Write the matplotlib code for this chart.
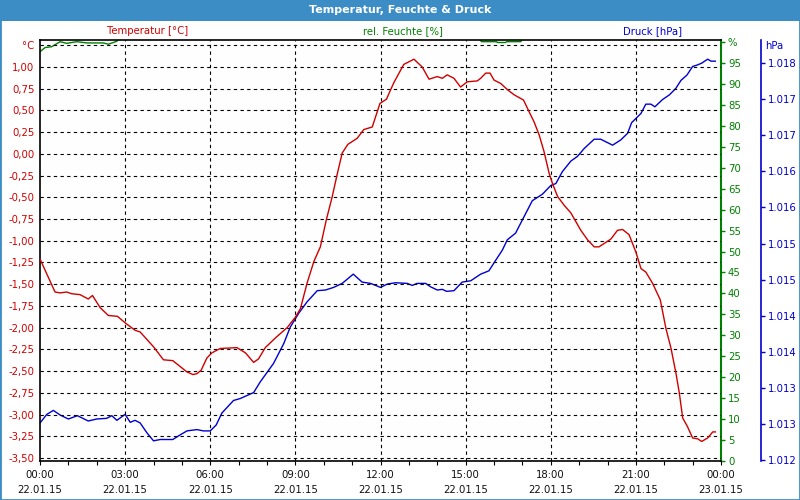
import matplotlib
matplotlib.use('Agg')
import matplotlib.pyplot as plt
from matplotlib.patches import Rectangle
from matplotlib.ticker import FixedLocator, FuncFormatter
import numpy as np

# Werte (Stunden seit 22.01.15 00:00)
temp_h = [0.00, 0.53, 0.71, 0.94, 1.12, 1.41, 1.70, 1.85, 2.12, 2.41, 2.73, 3.02, 3.35, 3.53,
          4.00, 4.35, 4.68, 5.18, 5.39, 5.53, 5.68, 5.88, 6.06, 6.35, 6.94, 7.24, 7.53, 7.70,
          7.94, 8.29, 8.71, 9.00, 9.18, 9.41, 9.65, 9.88, 10.09, 10.30, 10.47, 10.65, 10.85,
          11.18, 11.41, 11.71, 11.98, 12.21, 12.47, 12.82, 13.18, 13.47, 13.71, 14.00, 14.18,
          14.35, 14.59, 14.82, 15.06, 15.41, 15.53, 15.71, 15.86, 16.00, 16.24, 16.47, 16.71,
          17.04, 17.23, 17.41, 17.59, 17.76, 17.94, 18.06, 18.24, 18.47, 18.71, 19.06, 19.30,
          19.53, 19.70, 20.12, 20.35, 20.53, 20.76, 21.00, 21.18, 21.35, 21.59, 21.86, 22.06,
          22.24, 22.41, 22.53, 22.65, 22.82, 23.00, 23.18, 23.32, 23.53, 23.71, 23.80]
temp_c = [-1.21, -1.59, -1.60, -1.59, -1.61, -1.62, -1.67, -1.63, -1.77, -1.86, -1.87, -1.95,
          -2.03, -2.05, -2.22, -2.37, -2.38, -2.51, -2.54, -2.53, -2.49, -2.35, -2.29, -2.24,
          -2.23, -2.29, -2.40, -2.36, -2.23, -2.12, -2.00, -1.88, -1.78, -1.49, -1.24, -1.07,
          -0.76, -0.49, -0.24, 0.01, 0.11, 0.18, 0.28, 0.31, 0.58, 0.63, 0.82, 1.03, 1.09,
          1.00, 0.86, 0.89, 0.87, 0.91, 0.87, 0.77, 0.83, 0.84, 0.87, 0.93, 0.93, 0.85, 0.81,
          0.74, 0.68, 0.62, 0.49, 0.37, 0.22, 0.03, -0.22, -0.34, -0.49, -0.59, -0.68, -0.88,
          -0.99, -1.07, -1.07, -0.98, -0.88, -0.87, -0.93, -1.13, -1.32, -1.36, -1.49, -1.68,
          -2.01, -2.24, -2.52, -2.75, -3.04, -3.14, -3.27, -3.28, -3.31, -3.27, -3.20, -3.20]

druck_h = [0.00, 0.24, 0.47, 0.71, 1.00, 1.32, 1.70, 2.00, 2.35, 2.53, 2.71, 3.00, 3.18, 3.35,
           3.53, 3.77, 4.00, 4.24, 4.68, 4.94, 5.18, 5.53, 5.76, 6.00, 6.21, 6.41, 6.82, 7.06,
           7.53, 7.76, 8.23, 8.59, 8.82, 9.12, 9.41, 9.77, 10.06, 10.35, 10.65, 11.04, 11.35,
           11.65, 12.00, 12.24, 12.53, 12.94, 13.12, 13.29, 13.59, 13.76, 14.00, 14.18, 14.33,
           14.59, 14.88, 15.18, 15.53, 15.82, 16.06, 16.29, 16.47, 16.76, 17.06, 17.35, 17.71,
           18.00, 18.18, 18.41, 18.71, 18.94, 19.18, 19.53, 19.76, 20.18, 20.47, 20.71, 20.85,
           21.18, 21.35, 21.53, 21.67, 21.94, 22.18, 22.41, 22.59, 22.80, 23.00, 23.15, 23.32,
           23.53, 23.65, 23.80]
druck_hpa = [1012.56, 1012.69, 1012.75, 1012.68, 1012.62, 1012.67, 1012.59, 1012.62, 1012.63,
             1012.67, 1012.60, 1012.69, 1012.57, 1012.60, 1012.56, 1012.41, 1012.29, 1012.31,
             1012.31, 1012.38, 1012.44, 1012.46, 1012.44, 1012.44, 1012.53, 1012.71, 1012.90,
             1012.93, 1013.02, 1013.18, 1013.46, 1013.76, 1014.01, 1014.22, 1014.39, 1014.56,
             1014.57, 1014.61, 1014.67, 1014.81, 1014.69, 1014.67, 1014.61, 1014.66, 1014.68,
             1014.67, 1014.64, 1014.67, 1014.67, 1014.62, 1014.57, 1014.58, 1014.55, 1014.56,
             1014.69, 1014.71, 1014.81, 1014.86, 1015.02, 1015.17, 1015.33, 1015.43, 1015.68,
             1015.92, 1016.02, 1016.15, 1016.18, 1016.36, 1016.52, 1016.59, 1016.71, 1016.85,
             1016.85, 1016.76, 1016.84, 1016.94, 1017.10, 1017.24, 1017.38, 1017.38, 1017.34,
             1017.45, 1017.52, 1017.62, 1017.74, 1017.82, 1017.95, 1017.97, 1018.00, 1018.06,
             1018.03, 1018.03]

# Feuchte liegt meist oberhalb der Skala (abgeschnitten)
feuchte_h = [0.00, 0.18, 0.41, 0.71, 0.94, 1.30, 1.65, 2.23, 2.41, 2.71, 2.85, 4.0, 8.0, 12.0,
             15.40, 15.56, 16.09, 16.12, 16.40, 16.45, 16.94, 17.10, 20.0, 23.80]
feuchte_pct = [97.7, 98.7, 98.9, 100.1, 99.7, 100.1, 99.8, 99.8, 99.5, 100.2, 101.5, 102.0,
               102.5, 102.0, 101.5, 100.1, 100.1, 99.9, 99.9, 100.1, 100.1, 101.5, 102.0, 102.5]

x_ticks = [0, 3, 6, 9, 12, 15, 18, 21, 24]
x_zeit = ['00:00', '03:00', '06:00', '09:00', '12:00', '15:00', '18:00', '21:00', '00:00']
x_datum = ['22.01.15'] * 8 + ['23.01.15']

rot = '#d00000'
gruen = '#008000'
blau = '#0000d0'
rahmen = '#3c8dc6'
fs = 7.3

plt.rcParams['font.family'] = ['DejaVu Sans']

fig = plt.figure(figsize=(8, 5), dpi=100)
fig.patch.set_facecolor('white')

ax = fig.add_axes([40/800, 39/500, 681/800, 421/500])
ax.set_xlim(0, 24)
ax.set_ylim(-3.535, 1.311)

ax2 = ax.twinx()
ax2.set_ylim(0, 100.5)
ax3 = ax.twinx()
ax3.set_ylim(1011.985, 1018.35)
ax3.spines['right'].set_position(('axes', (761 - 40) / 681))

# Linien
ax2.plot(feuchte_h, feuchte_pct, color=gruen, lw=1.0)
ax3.plot(druck_h, druck_hpa, color=blau, lw=1.0)
ax.plot(temp_h, temp_c, color=rot, lw=1.0, zorder=5)
ax.set_zorder(ax3.get_zorder() + 1)
ax.patch.set_visible(False)
fig.patches.append(Rectangle((40/800, 39/500), 681/800, 421/500, transform=fig.transFigure,
                             facecolor='#fdfefd', edgecolor='none', zorder=-1))

# Gitter
t_ticks = np.arange(-3.5, 1.26, 0.25)
ax.yaxis.set_major_locator(FixedLocator(t_ticks))
t_labels = [('%.2f' % v).replace('.', ',') for v in t_ticks]
t_labels[-1] = '°C'
ax.set_yticklabels(t_labels)
ax.set_xticks(x_ticks)
ax.set_xticklabels([])
ax.set_xticks(np.arange(0, 25, 1), minor=True)
ax.grid(True, which='major', color='black', linestyle=(0, (3, 3)), lw=0.8)
for gl in ax.get_xgridlines()[:1] + ax.get_xgridlines()[-1:]:
    gl.set_visible(False)

# Zeitachse: zwei Zeilen pro Tick
for xt, z, d in zip(x_ticks, x_zeit, x_datum):
    ax.annotate(z, (xt, 0), xycoords=('data', 'axes fraction'), xytext=(0, -14),
                textcoords='offset pixels', ha='center', va='center', fontsize=fs, color='#101010')
    ax.annotate(d, (xt, 0), xycoords=('data', 'axes fraction'), xytext=(0, -29),
                textcoords='offset pixels', ha='center', va='center', fontsize=fs, color='#101010')

ax.tick_params(axis='y', length=0, pad=4, labelcolor=rot, labelsize=fs)
ax.tick_params(axis='x', which='major', length=3, width=0.8)
ax.tick_params(axis='x', which='minor', length=3, width=0.8)

h_ticks = list(range(0, 101, 5))
ax2.yaxis.set_major_locator(FixedLocator(h_ticks))
ax2.set_yticklabels([str(v) for v in h_ticks[:-1]] + ['%'])
ax2.tick_params(axis='y', length=3, width=1, color=gruen, labelcolor=gruen, labelsize=fs, pad=2)

p_ticks = np.linspace(1012, 1018, 12)
ax3.yaxis.set_major_locator(FixedLocator(p_ticks))
ax3.yaxis.set_major_formatter(FuncFormatter(lambda v, _: '%.3f' % (v / 1000)))
ax3.tick_params(axis='y', length=3, width=1, color=blau, labelcolor=blau, labelsize=fs, pad=2)

for s in ['left', 'top', 'bottom']:
    ax.spines[s].set_linewidth(1.2)
ax.spines['right'].set_visible(False)
for a in (ax2, ax3):
    for s in ['left', 'top', 'bottom']:
        a.spines[s].set_visible(False)
ax2.spines['right'].set_color(gruen)
ax2.spines['right'].set_linewidth(1.5)
ax3.spines['right'].set_color(blau)
ax3.spines['right'].set_linewidth(1.2)

# Titelleiste und Rahmen
fig.patches.append(Rectangle((0, 1 - 21/500), 1, 21/500, transform=fig.transFigure,
                             facecolor=rahmen, edgecolor='none'))
fig.patches.append(Rectangle((0, 0), 1, 1, transform=fig.transFigure, fill=False,
                             edgecolor=rahmen, lw=2))
fig.text(0.5, 1 - 10/500, 'Temperatur, Feuchte & Druck', color='white', fontweight='bold',
         ha='center', va='center', fontsize=8)

fig.text(148/800, 1 - 31/500, 'Temperatur [°C]', color=rot, ha='center', va='center', fontsize=fs)
fig.text(403/800, 1 - 31/500, 'rel. Feuchte [%]', color=gruen, ha='center', va='center', fontsize=fs)
fig.text(653/800, 1 - 31/500, 'Druck [hPa]', color=blau, ha='center', va='center', fontsize=fs)
fig.text(765/800, 1 - 46/500, 'hPa', color=blau, ha='left', va='center', fontsize=fs)

fig.savefig('out.png', dpi=100)
